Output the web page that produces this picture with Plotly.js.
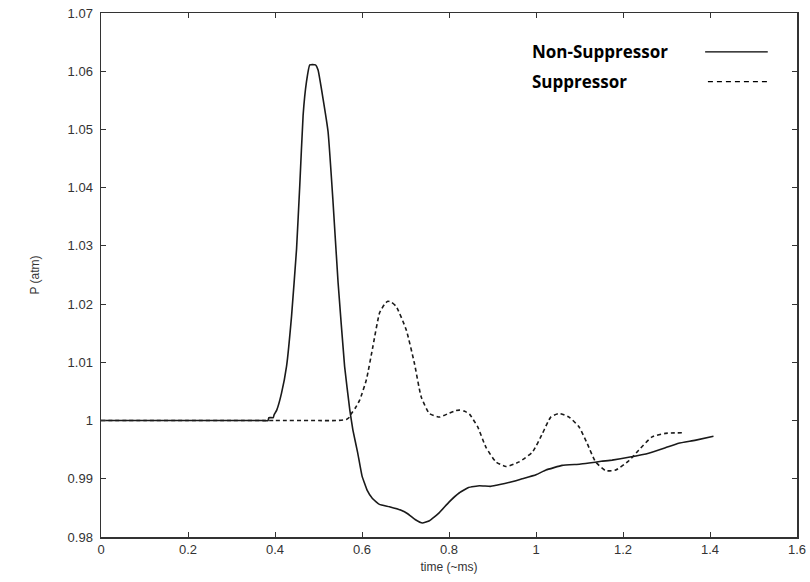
<!DOCTYPE html>
<html>
<head>
<meta charset="utf-8">
<script src="https://cdn.plot.ly/plotly-3.0.1.min.js"></script>
<style>html,body{margin:0;padding:0;background:#fff;}#chart{width:810px;height:582px;}</style>
</head>
<body>
<div id="chart"></div>
<script>
// Non-Suppressor (solid)
const nonSupTime = [0, 0.1, 0.2, 0.3, 0.37, 0.384, 0.386, 0.396, 0.398, 0.404, 0.415, 0.4265, 0.438, 0.4495, 0.457, 0.4646, 0.4724, 0.480, 0.493, 0.499, 0.5104, 0.522, 0.533, 0.545, 0.560, 0.572, 0.579, 0.590, 0.600, 0.612, 0.624, 0.640, 0.663, 0.690, 0.705, 0.722, 0.739, 0.755, 0.778, 0.800, 0.824, 0.845, 0.870, 0.895, 0.909, 0.940, 0.968, 1.000, 1.023, 1.060, 1.100, 1.122, 1.150, 1.175, 1.213, 1.259, 1.300, 1.328, 1.365, 1.408];
const nonSupP = [1.0, 1.0, 1.0, 1.0, 1.0, 1.0, 1.0005, 1.0005, 1.0010, 1.0018, 1.0047, 1.0093, 1.0179, 1.0294, 1.0405, 1.0524, 1.0582, 1.0611, 1.0611, 1.0602, 1.0553, 1.0496, 1.038, 1.0237, 1.0093, 1.0018, 0.9984, 0.9945, 0.9905, 0.9880, 0.9866, 0.9856, 0.9852, 0.9846, 0.9840, 0.9830, 0.9824, 0.9828, 0.9842, 0.9860, 0.9876, 0.9885, 0.9888, 0.9887, 0.9889, 0.9894, 0.9900, 0.9907, 0.9915, 0.9923, 0.9925, 0.9927, 0.9930, 0.9932, 0.9937, 0.9944, 0.9954, 0.9961, 0.9966, 0.9973];
// Suppressor (dashed)
const supTime = [0, 0.1, 0.2, 0.3, 0.4, 0.5, 0.54, 0.564, 0.5715, 0.5755, 0.585, 0.5946, 0.610, 0.625, 0.6404, 0.652, 0.6594, 0.668, 0.6787, 0.7016, 0.7206, 0.736, 0.755, 0.778, 0.801, 0.815, 0.824, 0.836, 0.847, 0.866, 0.885, 0.908, 0.931, 0.961, 0.992, 1.015, 1.034, 1.053, 1.076, 1.099, 1.118, 1.137, 1.160, 1.183, 1.2135, 1.236, 1.267, 1.2976, 1.336];
const supP = [1.0, 1.0, 1.0, 1.0, 1.0, 1.0, 1.0, 1.0002, 1.0006, 1.0012, 1.0022, 1.0035, 1.0070, 1.0127, 1.0185, 1.0200, 1.0205, 1.0203, 1.0196, 1.0156, 1.0098, 1.0041, 1.0012, 1.0006, 1.0013, 1.0017, 1.0018, 1.0016, 1.0011, 0.9989, 0.9954, 0.9929, 0.9921, 0.9929, 0.9946, 0.9978, 1.0006, 1.0012, 1.0006, 0.9989, 0.9960, 0.9929, 0.9914, 0.9915, 0.9931, 0.9949, 0.9972, 0.9978, 0.9979];

const xTickVals = [0, 0.2, 0.4, 0.6, 0.8, 1, 1.2, 1.4, 1.6];
const xTickText = ['0', '0.2', '0.4', '0.6', '0.8', '1', '1.2', '1.4', '1.6'];
const yTickVals = [0.98, 0.99, 1.0, 1.01, 1.02, 1.03, 1.04, 1.05, 1.06, 1.07];
const yTickText = ['0.98', '0.99', '1', '1.01', '1.02', '1.03', '1.04', '1.05', '1.06', '1.07'];
const seriesNames = ['Non-Suppressor', 'Suppressor'];

const lineColor = '#1a1a1a';
const traces = [
  {x: supTime, y: supP, mode: 'lines', name: seriesNames[1],
   line: {color: lineColor, width: 1.6, dash: '4px,3px', shape: 'spline', smoothing: 0.5}},
  {x: nonSupTime, y: nonSupP, mode: 'lines', name: seriesNames[0],
   line: {color: lineColor, width: 1.6, shape: 'spline', smoothing: 0.3}}
];

const tickFont = {family: 'Liberation Sans, Arial, sans-serif', size: 13, color: '#333'};
const layout = {
  width: 810, height: 582,
  margin: {l: 101, r: 13, t: 13, b: 45},
  paper_bgcolor: '#fff', plot_bgcolor: '#fff',
  showlegend: false,
  xaxis: {range: [0, 1.6], tickvals: xTickVals, ticktext: xTickText,
    ticks: 'inside', ticklen: 5, tickcolor: '#333', tickwidth: 1,
    showline: true, linecolor: '#333', linewidth: 1.5, mirror: 'allticks',
    showgrid: false, zeroline: false, tickfont: tickFont,
    title: {text: 'time (~ms)', font: {family: 'Liberation Sans, Arial, sans-serif', size: 12, color: '#333'}, standoff: 6}},
  yaxis: {range: [0.98, 1.07], tickvals: yTickVals, ticktext: yTickText,
    ticks: 'inside', ticklen: 5, tickcolor: '#333', tickwidth: 1,
    showline: true, linecolor: '#333', linewidth: 1.5, mirror: 'allticks',
    showgrid: false, zeroline: false, tickfont: tickFont, ticklabelstandoff: 4,
    title: {text: 'P (atm)', font: {family: 'Liberation Sans, Arial, sans-serif', size: 12, color: '#333'}, standoff: 25}},
  annotations: [
    {xref: 'paper', yref: 'paper', x: 0.616, y: 0.926, xanchor: 'left', yanchor: 'middle', showarrow: false,
     text: '<b>' + seriesNames[0] + '</b>', font: {family: 'Open Sans, sans-serif', size: 17, color: '#000'}},
    {xref: 'paper', yref: 'paper', x: 0.616, y: 0.869, xanchor: 'left', yanchor: 'middle', showarrow: false,
     text: '<b>' + seriesNames[1] + '</b>', font: {family: 'Open Sans, sans-serif', size: 17, color: '#000'}}
  ],
  shapes: [
    {type: 'line', xref: 'paper', yref: 'paper', x0: 0.868, x1: 0.958, y0: 0.926, y1: 0.926, line: {color: '#000', width: 1.3}},
    {type: 'line', xref: 'paper', yref: 'paper', x0: 0.872, x1: 0.958, y0: 0.869, y1: 0.869, line: {color: '#000', width: 1.3, dash: '5px,4px'}}
  ]
};
Plotly.newPlot('chart', traces, layout, {displayModeBar: false, staticPlot: true});
</script>
</body>
</html>
